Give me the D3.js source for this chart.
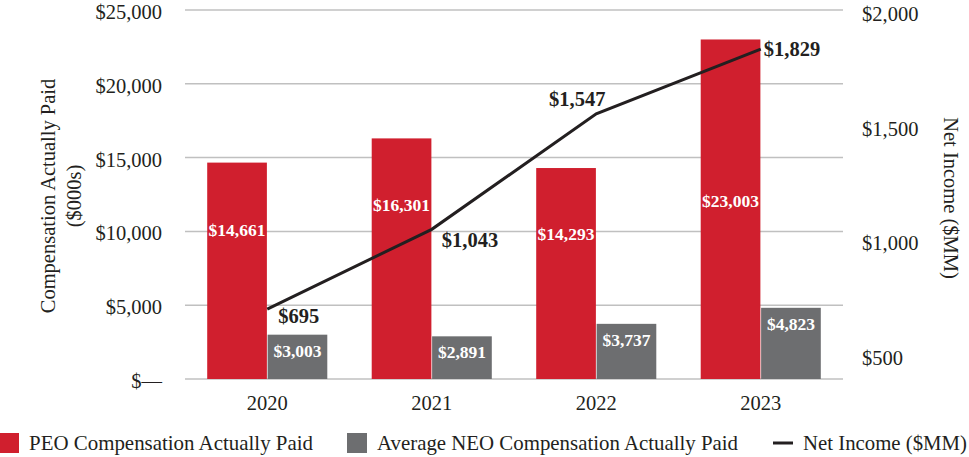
<!DOCTYPE html>
<html><head><meta charset="utf-8">
<script src="https://cdn.jsdelivr.net/npm/d3@7"></script>
<style>body{margin:0;background:#fff}svg{display:block;font-family:"Liberation Serif","Times New Roman",serif}</style>
</head><body><svg id="c" width="969" height="457"></svg>
<script>
const years = ["2020","2021","2022","2023"];
const peo = [14661, 16301, 14293, 23003];
const neo = [3003, 2891, 3737, 4823];
const netIncome = [695, 1043, 1547, 1829];
const peoLabelAt = [10100, 11800, 9800, 12050];
const leftTicks = [0, 5000, 10000, 15000, 20000, 25000];
const rightTicks = [500, 1000, 1500, 2000];
const seriesNames = ["PEO Compensation Actually Paid", "Average NEO Compensation Actually Paid", "Net Income ($MM)"];

const RED = "#d01f2e", GRAY = "#6d6e70", LINE = "#231f20", GRID = "#c0c0c0", TXT = "#231f20";
const svg = d3.select("#c");
const L = 185, R = 843, T = 10, B = 379;

const x0 = d3.scaleBand().domain(years).range([L, R]).paddingInner(0.27).paddingOuter(0.135);
const x1 = d3.scaleBand().domain(["peo","neo"]).range([0, x0.bandwidth()]).paddingInner(0.012);
const yL = d3.scaleLinear().domain([0, 25000]).range([B, T]);
const yR = d3.scaleLinear().domain([390, 2000]).range([B, T]);

const fmt = d3.format(",");
// gridlines
svg.append("g").selectAll("line").data(leftTicks).join("line")
  .attr("x1", L).attr("x2", R).attr("y1", d => yL(d)).attr("y2", d => yL(d))
  .attr("stroke", GRID).attr("stroke-width", 1.5);

// left axis labels
const ga = d3.axisLeft(yL).tickValues(leftTicks).tickSize(0).tickPadding(0)
  .tickFormat(d => d === 0 ? "$\u2014" : "$" + fmt(d));
svg.append("g").attr("transform", `translate(162,2)`).call(ga)
  .call(g => g.select(".domain").remove())
  .selectAll("text").attr("font-size", 20.5).attr("fill", TXT).attr("font-family", "Liberation Serif");

// right axis labels
const gr = d3.axisRight(yR).tickValues(rightTicks).tickSize(0).tickPadding(0)
  .tickFormat(d => "$" + fmt(d));
svg.append("g").attr("transform", `translate(862,4)`).call(gr)
  .call(g => g.select(".domain").remove())
  .selectAll("text").attr("font-size", 20.5).attr("fill", TXT).attr("font-family", "Liberation Serif");

// x axis labels
const gx = d3.axisBottom(x0).tickSize(0).tickPadding(0);
svg.append("g").attr("transform", `translate(0,${B + 16})`).call(gx)
  .call(g => g.select(".domain").remove())
  .selectAll("text").attr("font-size", 20.5).attr("fill", TXT).attr("font-family", "Liberation Serif");

// axis titles
svg.append("text").attr("transform", "translate(48,196) rotate(-90)").attr("text-anchor", "middle")
  .attr("font-size", 20.5).attr("fill", TXT)
  .selectAll("tspan").data(["Compensation Actually Paid", "($000s)"]).join("tspan")
  .attr("x", 0).attr("y", (d, i) => i * 26).attr("dominant-baseline", "central").text(d => d);
svg.append("text").attr("transform", "translate(951,198) rotate(90)").attr("text-anchor", "middle")
  .attr("dominant-baseline", "central")
  .attr("font-size", 20.5).attr("fill", TXT).text(seriesNames[2]);

// bars
const groups = svg.append("g").selectAll("g").data(years).join("g")
  .attr("transform", d => `translate(${x0(d)},0)`);
groups.append("rect").attr("x", x1("peo")).attr("width", x1.bandwidth())
  .attr("y", (d, i) => yL(peo[i])).attr("height", (d, i) => B - yL(peo[i])).attr("fill", RED);
groups.append("rect").attr("x", x1("neo")).attr("width", x1.bandwidth())
  .attr("y", (d, i) => yL(neo[i])).attr("height", (d, i) => B - yL(neo[i])).attr("fill", GRAY);
groups.append("text").attr("x", x1("peo") + x1.bandwidth() / 2).attr("y", (d, i) => yL(peoLabelAt[i]))
  .attr("text-anchor", "middle").attr("dominant-baseline", "central")
  .attr("font-size", 17.5).attr("font-weight", "bold").attr("fill", "#fff")
  .text((d, i) => "$" + fmt(peo[i]));
groups.append("text").attr("x", x1("neo") + x1.bandwidth() / 2).attr("y", (d, i) => yL(neo[i]) + 16)
  .attr("text-anchor", "middle").attr("dominant-baseline", "central")
  .attr("font-size", 17.5).attr("font-weight", "bold").attr("fill", "#fff")
  .text((d, i) => "$" + fmt(neo[i]));

// line
const cx = d => x0(d) + x0.bandwidth() / 2;
const line = d3.line().x((d, i) => cx(years[i])).y(d => yR(d));
svg.append("path").datum(netIncome).attr("d", line).attr("fill", "none")
  .attr("stroke", LINE).attr("stroke-width", 3);
const lblRule = [
  {dx: 11, dy: 7, a: "start"},
  {dx: 10, dy: 11, a: "start"},
  {dx: -19, dy: -15, a: "middle"},
  {dx: 3, dy: 0, a: "start"}
];
svg.append("g").selectAll("text").data(netIncome).join("text")
  .attr("x", (d, i) => cx(years[i]) + lblRule[i].dx)
  .attr("y", (d, i) => yR(d) + lblRule[i].dy)
  .attr("text-anchor", (d, i) => lblRule[i].a).attr("dominant-baseline", "central")
  .attr("font-size", 20.5).attr("font-weight", "bold").attr("fill", LINE)
  .text(d => "$" + fmt(d));

// legend
const lg = svg.append("g").attr("font-size", 21).attr("fill", TXT);
lg.append("rect").attr("x", 0).attr("y", 433).attr("width", 19).attr("height", 20).attr("fill", RED);
lg.append("text").attr("x", 29).attr("y", 443).attr("dominant-baseline", "central")
  .attr("textLength", 284).attr("lengthAdjust", "spacingAndGlyphs").text(seriesNames[0]);
lg.append("rect").attr("x", 347).attr("y", 433).attr("width", 20).attr("height", 20).attr("fill", GRAY);
lg.append("text").attr("x", 377).attr("y", 443).attr("dominant-baseline", "central")
  .attr("textLength", 361).attr("lengthAdjust", "spacingAndGlyphs").text(seriesNames[1]);
lg.append("line").attr("x1", 773).attr("x2", 793).attr("y1", 443).attr("y2", 443).attr("stroke", LINE).attr("stroke-width", 3);
lg.append("text").attr("x", 803).attr("y", 443).attr("dominant-baseline", "central")
  .attr("textLength", 164).attr("lengthAdjust", "spacingAndGlyphs").text(seriesNames[2]);
</script></body></html>
